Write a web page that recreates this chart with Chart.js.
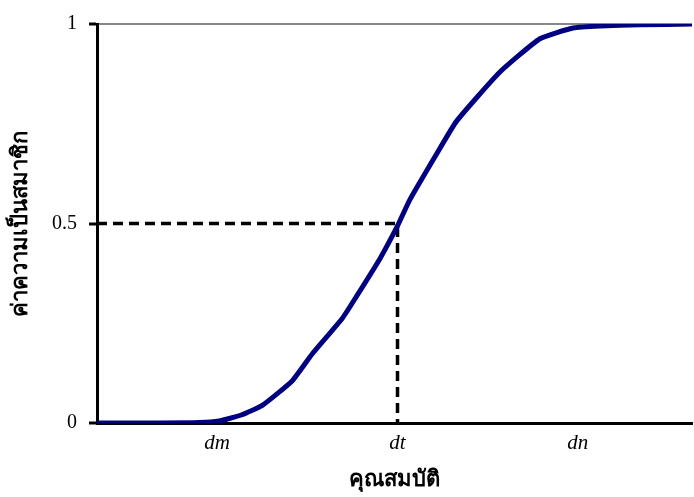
<!DOCTYPE html>
<html>
<head>
<meta charset="utf-8">
<script src="https://cdn.jsdelivr.net/npm/chart.js@4.4.1/dist/chart.umd.min.js"></script>
<style>
  html, body { margin: 0; padding: 0; background: #fff; }
  #wrap { width: 694px; height: 497px; }
</style>
</head>
<body>
<div id="wrap"><canvas id="c" width="694" height="497"></canvas></div>
<script>
// membership curve
const curveX = [0, 10.3, 17, 20.3, 24, 27.5, 32.5, 35.8, 40.8, 43.2, 47, 50, 52, 56.5, 59.8, 67, 73.7, 79.2, 83.7, 90.3, 99];
const curveY = [0, 0, 0.001, 0.005, 0.02, 0.044, 0.106, 0.173, 0.262, 0.318, 0.41, 0.494, 0.558, 0.674, 0.756, 0.879, 0.963, 0.99, 0.995, 0.998, 1];

// dashed guide to the crossing point
const guideX = [0, 50, 50];
const guideY = [0.5, 0.5, 0];

const xTickValues = [20, 50, 80];
const xTickLabels = ['dm', 'dt', 'dn'];
const yTickValues = [0, 0.5, 1];

const toPoints = (xs, ys) => xs.map((x, i) => ({ x: x, y: ys[i] }));

new Chart(document.getElementById('c'), {
    type: 'line',
    data: {
        datasets: [{
            data: toPoints(curveX, curveY),
            borderColor: '#000080',
            borderWidth: 5,
            pointRadius: 0,
            tension: 0.15,
            fill: false,
        }, {
            data: toPoints(guideX, guideY),
            borderColor: '#000000',
            borderWidth: 3.5,
            borderDash: [10, 6],
            pointRadius: 0,
            tension: 0,
            fill: false,
        }]
    },
    options: {
        responsive: false,
        animation: false,
        layout: { padding: { top: 18, right: 2, left: 0, bottom: 0 } },
        plugins: {
            legend: { display: false },
            tooltip: { enabled: false },
        },
        scales: {
            x: {
                type: 'linear',
                min: 0,
                max: 99,
                afterBuildTicks: (scale) => { scale.ticks = xTickValues.map(v => ({ value: v })); },
                afterFit: (scale) => { scale.height = 74; },
                grid: { display: false, drawTicks: false },
                border: { color: '#000', width: 3 },
                ticks: {
                    padding: 8,
                    color: '#000',
                    font: { family: 'Liberation Serif', size: 21, style: 'italic' },
                    callback: (v) => xTickLabels[xTickValues.indexOf(v)],
                },
                title: {
                    display: true,
                    text: 'คุณสมบัติ',
                    color: '#000',
                    font: { family: 'Noto Sans', size: 22, weight: 'bold' },
                    padding: { top: 16 },
                },
            },
            y: {
                type: 'linear',
                min: 0,
                max: 1,
                afterBuildTicks: (scale) => { scale.ticks = yTickValues.map(v => ({ value: v })); },
                afterFit: (scale) => { scale.width = 97; },
                grid: {
                    color: (ctx) => ctx.tick && ctx.tick.value === 1 ? '#888' : 'rgba(0,0,0,0)',
                    lineWidth: 2,
                    tickColor: '#000',
                    tickWidth: 3,
                    tickLength: 8,
                },
                border: { color: '#000', width: 3 },
                ticks: {
                    padding: 12,
                    color: '#000',
                    font: { family: 'Liberation Serif', size: 20 },
                    callback: (v) => String(v),
                },
                title: {
                    display: true,
                    text: 'ค่าความเป็นสมาชิก',
                    color: '#000',
                    font: { family: 'Noto Sans', size: 22, weight: 'bold' },
                    padding: { top: 8, bottom: 0 },
                },
            },
        },
    },
});
</script>
</body>
</html>
